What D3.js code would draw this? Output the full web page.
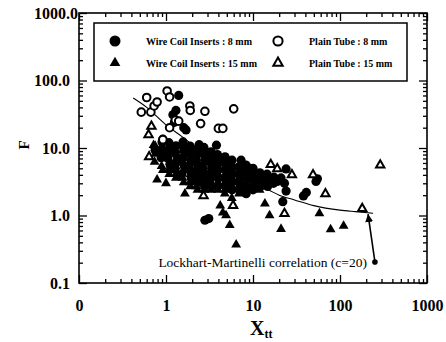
<!DOCTYPE html>
<html>
<head>
<meta charset="utf-8">
<script src="https://cdn.jsdelivr.net/npm/d3@7"></script>
<style>
  body { margin: 0; background: #fff; }
  svg { display: block; }
</style>
</head>
<body>
<svg id="chart" width="446" height="342"></svg>
<script>
const xTicks = [0.1, 1, 10, 100, 1000];
const xTickLabels = ['0', '1', '10', '100', '1000'];
const yTicks = [0.1, 1, 10, 100, 1000];
const yTickLabels = ['0.1', '1.0', '10.0', '100.0', '1000.0'];

const seriesNames = ['Wire Coil Inserts : 8 mm', 'Wire Coil Inserts : 15 mm', 'Plain Tube : 8 mm', 'Plain Tube : 15 mm'];

const wireCoil8 = [
  [1.4, 60], [1.3, 36], [1.2, 31], [1.7, 18.5], [1.6, 20], [1.25, 24], [0.92, 13.5], [2.4, 11.2],
  [3.8, 11], [7.3, 6.6], [9.2, 5.0], [11.5, 4.0], [24, 4.9], [21, 3.6], [23, 3.0], [24, 2.3],
  [22, 1.6], [38, 1.95], [41, 2.2], [53, 3.2], [55, 3.5], [2.8, 0.85], [3.1, 0.9], [19, 3.2], [15, 3.3],
  [0.75, 9.3],
  [0.9, 12.3], [0.92, 9.1], [0.88, 7.2],
  [1.08, 12.0], [1.1, 9.4], [1.05, 7.0], [1.12, 5.5],
  [1.3, 10.8], [1.28, 8.2], [1.33, 6.2], [1.27, 4.8],
  [1.57, 12.3], [1.6, 9.3], [1.55, 7.1], [1.62, 5.4], [1.52, 4.1],
  [1.89, 10.7], [1.85, 8.3], [1.93, 6.1], [1.88, 4.7], [1.95, 3.6],
  [2.27, 9.3], [2.22, 7.2], [2.32, 5.4], [2.25, 4.1], [2.3, 3.1],
  [2.73, 10.2], [2.7, 8.2], [2.8, 6.3], [2.68, 4.7], [2.75, 3.6], [2.78, 2.7],
  [3.29, 8.8], [3.25, 7.0], [3.35, 5.4], [3.3, 4.1], [3.2, 3.1],
  [3.9, 8.0], [4.05, 6.2], [3.95, 4.7], [4.0, 3.6], [3.9, 2.7],
  [4.77, 7.4], [4.7, 6.0], [4.85, 4.7], [4.75, 3.6], [4.8, 2.7],
  [5.74, 6.6], [5.7, 5.2], [5.8, 4.1], [5.65, 3.1], [5.75, 2.4],
  [6.8, 5.2], [7.0, 4.1], [6.85, 3.1], [6.95, 2.4],
  [8.3, 5.6], [8.2, 4.5], [8.4, 3.6], [8.25, 2.7], [8.35, 2.1],
  [10, 5.0], [9.8, 4.1], [10.2, 3.1], [10, 2.4],
  [12, 4.3], [11.8, 3.6], [12.2, 2.7],
  [14.5, 4.1], [14.3, 3.4], [14.7, 2.7],
  [17.4, 3.7], [17.2, 3.0]
];

const wireCoil15 = [
  [0.79, 3.4], [1.0, 3.0], [1.65, 2.1], [4.2, 1.4], [4.5, 1.1], [4.9, 1.0], [5.4, 0.72], [6.4, 0.37],
  [5.7, 1.8], [6.0, 1.4], [13.7, 1.5], [15.5, 1.0], [21, 0.63], [58, 1.07], [78, 0.62], [110, 0.7],
  [0.72, 11], [0.8, 9],
  [0.75, 10.7], [0.76, 8.2], [0.74, 6.2],
  [0.9, 10.7], [0.91, 8.2], [0.89, 5.4], [0.92, 4.7],
  [1.08, 10.7], [1.06, 8.2], [1.1, 6.2], [1.07, 4.7], [1.09, 4.1],
  [1.3, 9.3], [1.32, 7.1], [1.29, 5.4], [1.31, 4.1], [1.3, 3.6],
  [1.57, 10.7], [1.59, 8.2], [1.56, 6.2], [1.58, 4.7], [1.55, 3.6], [1.6, 3.1],
  [1.89, 9.3], [1.9, 7.1], [1.87, 5.4], [1.91, 4.1], [1.88, 3.1], [1.9, 2.7],
  [2.27, 10.2], [2.25, 8.2], [2.3, 6.2], [2.26, 4.7], [2.28, 3.6], [2.24, 2.7], [2.3, 2.4],
  [2.73, 9.0], [2.75, 7.1], [2.7, 5.4], [2.74, 4.1], [2.72, 3.1], [2.76, 2.4],
  [3.29, 7.6], [3.3, 6.2], [3.27, 4.7], [3.32, 3.6], [3.28, 2.7], [3.3, 2.4],
  [3.96, 6.8], [3.94, 5.4], [3.98, 4.1], [3.95, 3.1], [3.97, 2.4],
  [4.77, 6.4], [4.75, 5.1], [4.8, 4.1], [4.76, 3.1], [4.78, 2.4], [4.74, 2.1],
  [5.74, 5.6], [5.76, 4.5], [5.72, 3.6], [5.75, 2.7],
  [6.9, 4.5], [6.92, 3.6], [6.88, 2.7], [6.9, 2.1],
  [8.31, 4.1], [8.3, 3.1], [8.33, 2.4],
  [10, 4.3], [10.1, 3.6], [9.9, 2.7],
  [12, 3.8], [12.1, 3.1], [11.9, 2.4],
  [14.5, 3.6], [14.6, 3.0]
];

const plainTube8 = [
  [0.52, 34], [0.6, 56], [0.67, 34], [0.73, 42], [0.79, 48], [1.03, 70], [1.1, 57], [1.1, 20],
  [0.92, 13.3], [1.28, 26], [1.88, 42], [1.9, 36], [2.8, 35], [2.5, 23], [4.0, 19.5], [4.5, 19.5],
  [6.0, 38], [1.4, 25]
];

const plainTube15 = [
  [0.63, 15.7], [0.68, 21], [0.64, 7.4], [16, 5.7], [19, 4.9], [28, 4.0], [49, 4.0], [68, 2.1],
  [23, 1.07], [180, 1.27], [290, 5.6], [2.7, 1.95], [5.9, 1.4]
];

const lmCurve = [
  [0.42, 55], [0.6, 40], [1, 22], [1.5, 15], [2, 11.3], [3, 7.8], [5, 5.0], [7, 3.9], [10, 3.0],
  [15, 2.4], [20, 2.0], [30, 1.7], [50, 1.4], [100, 1.2], [150, 1.14], [240, 1.08]
];

const lmArrow = [[252, 0.205], [210, 1.05]];
const lmLabel = 'Lockhart-Martinelli correlation (c=20)';

const serif = "'Liberation Serif', 'Times New Roman', serif";

const margin = { top: 13, right: 19, bottom: 59, left: 79 };
const width = 446 - margin.left - margin.right;
const height = 342 - margin.top - margin.bottom;

const svg = d3.select('svg#chart');
const g = svg.append('g')
  .attr('transform', 'translate(' + margin.left + ',' + margin.top + ')');

const xScale = d3.scaleLog().domain([0.1, 1000]).range([0, width]);
const yScale = d3.scaleLog().domain([0.1, 1000]).range([height, 0]);

const minorTicks = [];
[0.1, 1, 10, 100].forEach(d => {
  for (let k = 2; k <= 9; k++) minorTicks.push(d * k);
});

function tickAxis(axis, scale, values, size) {
  return axis(scale).tickValues(values).tickSize(-size).tickFormat('');
}

const axes = [
  { fn: d3.axisBottom, scale: xScale, t: 'translate(0,' + height + ')' },
  { fn: d3.axisTop, scale: xScale, t: 'translate(0,0)' },
  { fn: d3.axisLeft, scale: yScale, t: 'translate(0,0)' },
  { fn: d3.axisRight, scale: yScale, t: 'translate(' + width + ',0)' }
];

axes.forEach(a => {
  g.append('g').attr('class', 'minor').attr('transform', a.t)
    .call(tickAxis(a.fn, a.scale, minorTicks, 4));
  g.append('g').attr('class', 'major').attr('transform', a.t)
    .call(tickAxis(a.fn, a.scale, xTicks, 8));
});
g.selectAll('.domain').remove();
g.selectAll('.tick line').attr('stroke', '#000').attr('stroke-width', 1.3);

g.append('rect')
  .attr('width', width).attr('height', height)
  .attr('fill', 'none').attr('stroke', '#000').attr('stroke-width', 1.6);

// tick labels
g.append('g')
  .attr('transform', 'translate(0,' + height + ')')
  .call(d3.axisBottom(xScale).tickValues(xTicks).tickSize(0).tickPadding(17)
    .tickFormat((d, i) => xTickLabels[i]))
  .call(s => s.select('.domain').remove())
  .selectAll('text')
  .attr('font-size', 16).attr('font-weight', 'bold').attr('fill', '#000');

g.append('g')
  .call(d3.axisLeft(yScale).tickValues(yTicks).tickSize(0).tickPadding(9)
    .tickFormat((d, i) => yTickLabels[i]))
  .call(s => s.select('.domain').remove())
  .selectAll('text')
  .attr('font-size', 16).attr('font-weight', 'bold').attr('fill', '#000')
  .attr('x', d => d === 1000 ? -1 : -9);

// axis titles
const xTitle = svg.append('text')
  .attr('x', 250).attr('y', 335)
  .attr('font-size', 20).attr('font-weight', 'bold');
xTitle.append('tspan').text('X');
xTitle.append('tspan').attr('font-size', 12).attr('dy', 3).text('tt');

svg.append('text')
  .attr('transform', 'translate(29,145) rotate(-90)')
  .attr('text-anchor', 'middle')
  .attr('font-size', 15).attr('font-weight', 'bold')
  .text('F');

// correlation curve
const line = d3.line()
  .x(d => xScale(d[0]))
  .y(d => yScale(d[1]))
  .curve(d3.curveMonotoneX);

g.append('path')
  .datum(lmCurve)
  .attr('d', line)
  .attr('fill', 'none').attr('stroke', '#000').attr('stroke-width', 1.1);

// markers
const tri = d3.symbol().type(d3.symbolTriangle);

g.append('g').selectAll('path')
  .data(wireCoil15).enter().append('path')
  .attr('d', tri.size(42)())
  .attr('transform', d => 'translate(' + xScale(d[0]) + ',' + yScale(d[1]) + ')')
  .attr('fill', '#000');

g.append('g').selectAll('circle')
  .data(wireCoil8).enter().append('circle')
  .attr('r', 4.6)
  .attr('cx', d => xScale(d[0]))
  .attr('cy', d => yScale(d[1]))
  .attr('fill', '#000');

g.append('g').selectAll('path')
  .data(plainTube15).enter().append('path')
  .attr('d', tri.size(30)())
  .attr('transform', d => 'translate(' + xScale(d[0]) + ',' + yScale(d[1]) + ')')
  .attr('fill', '#fff').attr('stroke', '#000').attr('stroke-width', 2);

g.append('g').selectAll('circle')
  .data(plainTube8).enter().append('circle')
  .attr('r', 3.8)
  .attr('cx', d => xScale(d[0]))
  .attr('cy', d => yScale(d[1]))
  .attr('fill', '#fff').attr('stroke', '#000').attr('stroke-width', 2);

// arrow to the curve
svg.append('defs').append('marker')
  .attr('id', 'head')
  .attr('viewBox', '0 0 10 10')
  .attr('refX', 10).attr('refY', 5)
  .attr('markerWidth', 8).attr('markerHeight', 8)
  .attr('markerUnits', 'userSpaceOnUse')
  .attr('orient', 'auto')
  .append('path').attr('d', 'M0,0L10,5L0,10Z').attr('fill', '#000');

g.append('line')
  .attr('x1', xScale(lmArrow[0][0])).attr('y1', yScale(lmArrow[0][1]))
  .attr('x2', xScale(lmArrow[1][0])).attr('y2', yScale(lmArrow[1][1]))
  .attr('stroke', '#000').attr('stroke-width', 1.6)
  .attr('marker-end', 'url(#head)');

g.append('circle')
  .attr('cx', xScale(lmArrow[0][0])).attr('cy', yScale(lmArrow[0][1]))
  .attr('r', 2.8).attr('fill', '#000');

g.append('text')
  .attr('x', xScale(lmArrow[0][0]) - 8).attr('y', yScale(lmArrow[0][1]) + 5)
  .attr('text-anchor', 'end')
  .attr('font-size', 13.5)
  .text(lmLabel);

// legend
const legend = svg.append('g').attr('transform', 'translate(94,23)');
legend.append('rect')
  .attr('width', 313).attr('height', 58)
  .attr('fill', '#fff').attr('stroke', '#000').attr('stroke-width', 1.5);

const items = [
  { name: seriesNames[0], x: 21, y: 18, shape: 'circle', filled: true, tx: 52 },
  { name: seriesNames[1], x: 21, y: 40, shape: 'tri', filled: true, tx: 52 },
  { name: seriesNames[2], x: 184, y: 18, shape: 'circle', filled: false, tx: 215 },
  { name: seriesNames[3], x: 184, y: 40, shape: 'tri', filled: false, tx: 215 }
];

items.forEach(it => {
  if (it.shape === 'circle') {
    legend.append('circle')
      .attr('cx', it.x).attr('cy', it.y)
      .attr('r', it.filled ? 5.5 : 4.6)
      .attr('fill', it.filled ? '#000' : '#fff')
      .attr('stroke', '#000').attr('stroke-width', it.filled ? 0 : 2);
  } else {
    legend.append('path')
      .attr('d', tri.size(it.filled ? 50 : 38)())
      .attr('transform', 'translate(' + it.x + ',' + it.y + ')')
      .attr('fill', it.filled ? '#000' : '#fff')
      .attr('stroke', '#000').attr('stroke-width', it.filled ? 0 : 2);
  }
  legend.append('text')
    .attr('x', it.tx).attr('y', it.y + 4)
    .attr('font-size', 10).attr('font-weight', 'bold')
    .text(it.name);
});

svg.selectAll('text').attr('font-family', serif);
</script>
</body>
</html>
